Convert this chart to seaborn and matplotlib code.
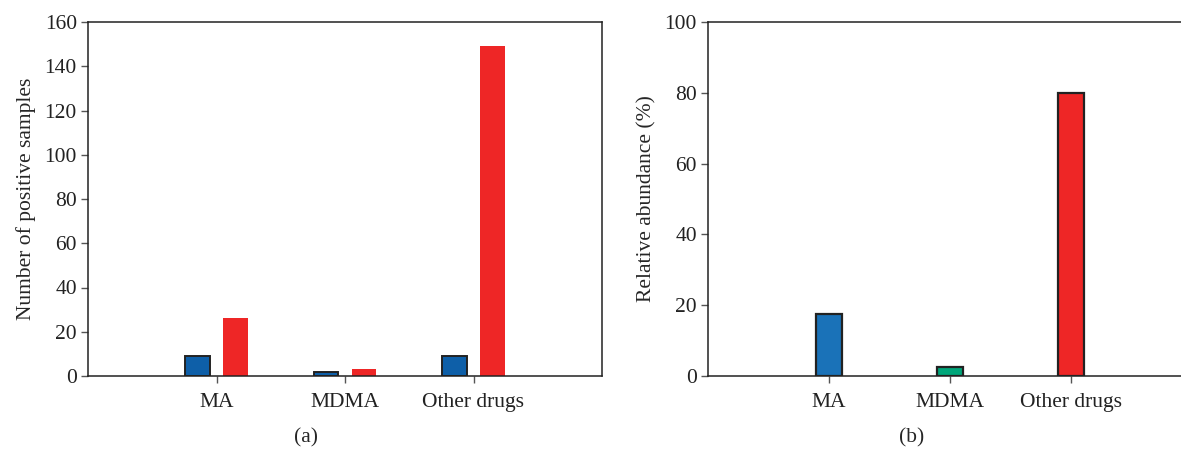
import pandas as pd
import matplotlib.pyplot as plt
import seaborn as sns

# panel (a): number of positive samples per drug class, two series
drugs = ["MA", "MDMA", "Other drugs"]
series_names = ["Series 1", "Series 2"]
positives_s1 = [9, 2, 9]
positives_s2 = [26, 3, 149]

# panel (b): relative abundance (%)
abundance = [17.5, 2.6, 80]

left_colors = ["#0e5fa8", "#ee2626"]
right_colors = ["#1a72b8", "#00a67a", "#ee2626"]

df_a = pd.DataFrame({
    "drug": drugs * 2,
    "series": [series_names[0]] * 3 + [series_names[1]] * 3,
    "count": positives_s1 + positives_s2,
})
df_b = pd.DataFrame({"drug": drugs, "abundance": abundance})

sns.set_theme(style="white")
plt.rcParams["font.family"] = ["Liberation Serif", "DejaVu Serif"]
plt.rcParams.update({"font.size": 15.5, "axes.labelsize": 15.5,
                     "xtick.labelsize": 15.5, "ytick.labelsize": 15.5})

fig = plt.figure(figsize=(11.81, 4.49), dpi=100)
ax1 = fig.add_axes([88 / 1181, 73 / 449, 514 / 1181, 354 / 449])
# right panel runs off the figure edge, as in the original crop
ax2 = fig.add_axes([708 / 1181, 73 / 449, 476 / 1181, 354 / 449])

sns.barplot(data=df_a, x="drug", y="count", hue="series", order=drugs,
            hue_order=series_names, palette=left_colors, saturation=1,
            width=0.59, gap=0.36, edgecolor="#222222", linewidth=1.4,
            legend=False, ax=ax1)
# only the blue bars carry an outline
for bar in ax1.containers[1]:
    bar.set_edgecolor("none")
    bar.set_linewidth(0)

sns.barplot(data=df_b, x="drug", y="abundance", hue="drug", order=drugs,
            palette=right_colors, saturation=1, width=0.21,
            edgecolor="#222222", linewidth=1.6, legend=False, ax=ax2)

ax1.set_xlim(-1, 3)
ax1.set_ylim(0, 160)
ax1.set_yticks(range(0, 161, 20))
ax1.set_ylabel("Number of positive samples", labelpad=6)

ax2.set_xlim(-1, 2.934)
ax2.set_ylim(0, 100)
ax2.set_yticks(range(0, 101, 20))
ax2.set_ylabel("Relative abundance (%)", labelpad=6)

for ax in (ax1, ax2):
    ax.set_xlabel("")
    for s in ax.spines.values():
        s.set_color("#222222")
        s.set_linewidth(1.1)
    ax.tick_params(axis="both", direction="out", length=5, width=1,
                   color="#555555", labelcolor="#222222", pad=3,
                   left=True, bottom=True)
    ax.tick_params(axis="x", pad=7)

fig.text(306 / 1181, 11 / 449, "(a)", ha="center", va="center", fontsize=15.5)
fig.text(912 / 1181, 11 / 449, "(b)", ha="center", va="center", fontsize=15.5)

fig.savefig("out.png", dpi=100)
